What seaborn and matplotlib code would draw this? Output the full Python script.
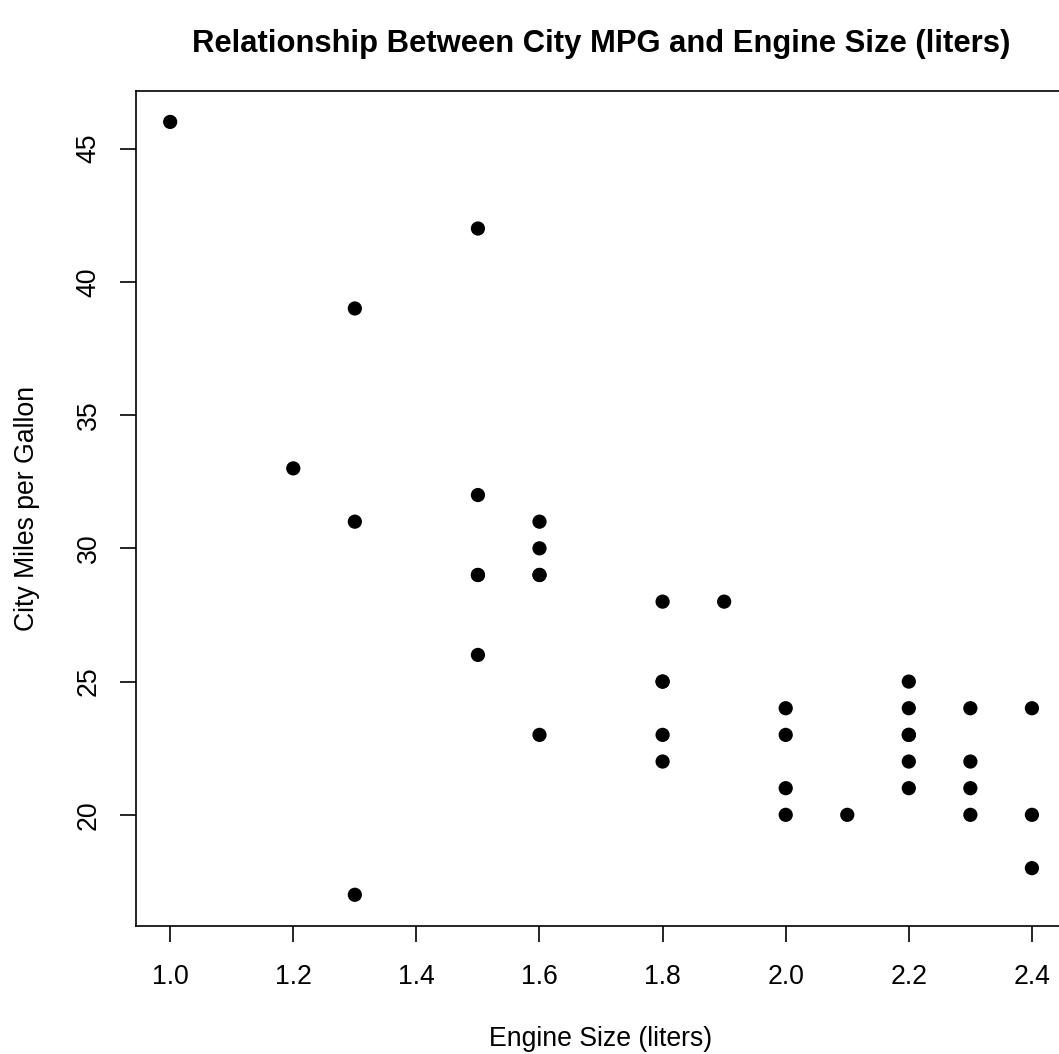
import matplotlib
matplotlib.use("Agg")
import matplotlib.pyplot as plt
import seaborn as sns
import pandas as pd

engine_size = [1.0, 1.2, 1.3, 1.3, 1.3,
               1.5, 1.5, 1.5, 1.5, 1.5,
               1.6, 1.6, 1.6, 1.6, 1.6,
               1.8, 1.8, 1.8, 1.8, 1.8,
               1.9,
               2.0, 2.0, 2.0, 2.0,
               2.1,
               2.2, 2.2, 2.2, 2.2, 2.2, 2.2,
               2.3, 2.3, 2.3, 2.3,
               2.4, 2.4, 2.4]
city_mpg = [46, 33, 39, 31, 17,
            42, 32, 29, 29, 26,
            31, 30, 29, 29, 23,
            28, 25, 25, 23, 22,
            28,
            24, 23, 21, 20,
            20,
            25, 24, 23, 23, 22, 21,
            24, 22, 21, 20,
            24, 20, 18]

x_ticks = [1.0, 1.2, 1.4, 1.6, 1.8, 2.0, 2.2, 2.4]
x_tick_labels = ["1.0", "1.2", "1.4", "1.6", "1.8", "2.0", "2.2", "2.4"]
y_ticks = [20, 25, 30, 35, 40, 45]
y_tick_labels = ["20", "25", "30", "35", "40", "45"]

df = pd.DataFrame({"EngineSize": engine_size, "MPG.city": city_mpg})

sns.set_theme(style="ticks")
plt.rcParams["font.family"] = ["Liberation Sans", "DejaVu Sans"]

fig = plt.figure(figsize=(10.59, 10.54), dpi=100)
W, H = 1059, 1054
left_px, right_px, top_px, bottom_px = 135.7, 1066.4, 91.0, 925.7
ax = fig.add_axes([left_px / W, 1 - bottom_px / H,
                   (right_px - left_px) / W, (bottom_px - top_px) / H])

sns.scatterplot(data=df, x="EngineSize", y="MPG.city", ax=ax,
                color="black", s=105, linewidth=0, edgecolor="none")

xmin, xmax = min(engine_size), max(engine_size)
ymin, ymax = min(city_mpg), max(city_mpg)
dx = (xmax - xmin) * 0.04
dy = (ymax - ymin) * 0.04
ax.set_xlim(xmin - dx, xmax + dx)
ax.set_ylim(ymin - dy, ymax + dy)

ax.set_xticks(x_ticks)
ax.set_xticklabels(x_tick_labels)
ax.set_yticks(y_ticks)
ax.set_yticklabels(y_tick_labels, rotation=90, va="center")

for sp in ax.spines.values():
    sp.set_visible(True)
    sp.set_color("black")
    sp.set_linewidth(1.2)

ax.tick_params(axis="both", direction="out", length=11.5, width=1.2,
               color="black", labelsize=19.2, labelcolor="black")
ax.tick_params(axis="x", pad=16)
ax.tick_params(axis="y", pad=13)

ax.set_xlabel("Engine Size (liters)", fontsize=19.2, labelpad=26, color="black")
ax.set_ylabel("City Miles per Gallon", fontsize=19.2, labelpad=26, color="black")
ax.set_title("Relationship Between City MPG and Engine Size (liters)",
             fontsize=22.3, fontweight="bold", pad=28, color="black")

fig.savefig("out.png", dpi=100, facecolor="white")
